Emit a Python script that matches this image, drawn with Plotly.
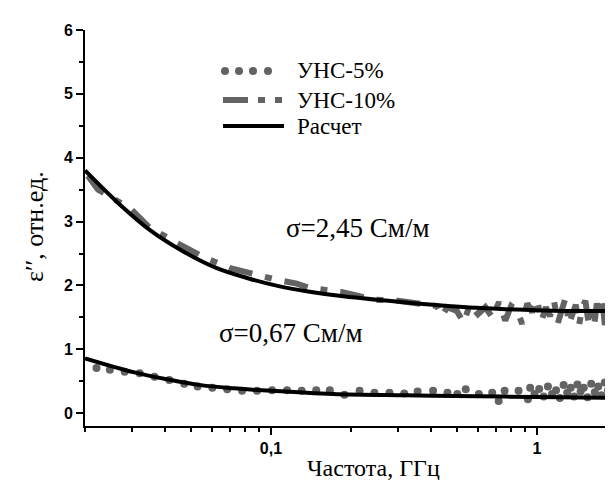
import plotly.graph_objects as go

# ---------------- data ----------------
# Calculated curve, sigma = 2.45 S/m
calc_hi_f = [0.02, 0.0262, 0.0349, 0.0465, 0.0619, 0.0825, 0.1069, 0.136, 0.187, 0.331, 0.588, 1.04, 1.85, 2.0]
calc_hi_e = [3.80, 3.32, 2.875, 2.54, 2.28, 2.11, 1.99, 1.91, 1.83, 1.73, 1.65, 1.61, 1.60, 1.60]

# Calculated curve, sigma = 0.67 S/m
calc_lo_f = [0.02, 0.0307, 0.0409, 0.0545, 0.0726, 0.1, 0.1715, 0.321, 0.604, 1.0, 2.0]
calc_lo_e = [0.86, 0.64, 0.53, 0.44, 0.39, 0.35, 0.30, 0.28, 0.265, 0.255, 0.24]

# УНС-10% measurement
unc10_f = [0.0205, 0.0224, 0.0297, 0.0349, 0.0446, 0.0561, 0.0703, 0.0887, 0.1053, 0.125, 0.14,
           0.184, 0.242, 0.30, 0.36, 0.40, 0.42, 0.44, 0.46, 0.50, 0.53, 0.56, 0.60, 0.64, 0.68,
           0.72, 0.76, 0.80, 0.84, 0.88, 0.92, 0.96, 1.00, 1.04, 1.08, 1.12, 1.16, 1.20, 1.24,
           1.28, 1.32, 1.36, 1.40, 1.44, 1.48, 1.52, 1.56, 1.60, 1.64, 1.68, 1.72, 1.76, 1.80,
           1.84, 1.88, 1.92, 1.96, 2.00]
unc10_e = [3.72, 3.50, 3.20, 2.91, 2.66, 2.44, 2.27, 2.16, 2.09, 2.03, 1.96,
           1.90, 1.78, 1.76, 1.72, 1.70, 1.68, 1.52, 1.66, 1.60, 1.42, 1.70, 1.55, 1.66, 1.50,
           1.74, 1.45, 1.68, 1.62, 1.40, 1.72, 1.58, 1.78, 1.44, 1.66, 1.52, 1.75, 1.42, 1.62,
           1.80, 1.40, 1.58, 1.70, 1.38, 1.65, 1.76, 1.45, 1.62, 1.36, 1.72, 1.50, 1.80, 1.38,
           1.66, 1.30, 1.78, 1.42, 1.60]

# УНС-5% measurement
unc5_f = [0.0221, 0.0248, 0.0282, 0.0321, 0.0365, 0.0415, 0.0472, 0.053, 0.0602, 0.0685, 0.0779,
          0.0887, 0.101, 0.115, 0.1305, 0.148, 0.1665, 0.189, 0.2155, 0.245, 0.279, 0.317, 0.356,
          0.407, 0.461, 0.502, 0.54, 0.605, 0.679, 0.718, 0.756, 0.853, 0.925, 0.943, 0.98, 1.02,
          1.06, 1.10, 1.14, 1.18, 1.22, 1.26, 1.30, 1.34, 1.38, 1.42, 1.46, 1.50, 1.55, 1.60,
          1.65, 1.70, 1.75, 1.80, 1.85, 1.90, 1.95, 1.99]
unc5_e = [0.71, 0.68, 0.65, 0.625, 0.57, 0.52, 0.46, 0.42, 0.40, 0.375, 0.35,
          0.35, 0.36, 0.36, 0.35, 0.36, 0.36, 0.29, 0.35, 0.32, 0.32, 0.31, 0.34,
          0.35, 0.32, 0.30, 0.375, 0.30, 0.32, 0.19, 0.35, 0.35, 0.22, 0.40, 0.30, 0.38,
          0.26, 0.42, 0.30, 0.36, 0.24, 0.44, 0.32, 0.40, 0.26, 0.45, 0.34, 0.40, 0.25, 0.46,
          0.33, 0.42, 0.28, 0.48, 0.36, 0.44, 0.30, 0.47]

x_tickvals = [0.1, 1]
x_ticktext = ["0,1", "1"]
x_minor = [0.02, 0.03, 0.04, 0.05, 0.06, 0.07, 0.08, 0.09, 0.2, 0.3, 0.4, 0.5, 0.6, 0.7, 0.8, 0.9, 2]
y_tickvals = [0, 1, 2, 3, 4, 5, 6]

legend_names = ["УНС-5%", "УНС-10%", "Расчет"]
sigma_labels = ["σ=2,45 См/м", "σ=0,67 См/м"]

# ---------------- layout helpers ----------------
W, H = 613, 480
L, R, T, B = 77, 4, 22, 62
PW, PH = W - L - R, H - T - B


def px(x):
    return (x - L) / PW


def py(y):
    return (H - B - y) / PH


GRAY = "#636363"
SERIF = "Liberation Serif"
SANS = "Liberation Sans"

fig = go.Figure()

fig.add_trace(go.Scatter(x=unc5_f, y=unc5_e, mode="markers",
                         marker=dict(size=8, color=GRAY, line=dict(width=0)),
                         name=legend_names[0], showlegend=False))
fig.add_trace(go.Scatter(x=unc10_f, y=unc10_e, mode="lines",
                         line=dict(color=GRAY, width=6, dash="24px,13px,7px,13px"),
                         name=legend_names[1], showlegend=False))
fig.add_trace(go.Scatter(x=calc_hi_f, y=calc_hi_e, mode="lines",
                         line=dict(color="black", width=4, shape="spline"),
                         name=legend_names[2], showlegend=False))
fig.add_trace(go.Scatter(x=calc_lo_f, y=calc_lo_e, mode="lines",
                         line=dict(color="black", width=4, shape="spline"),
                         name=legend_names[2], showlegend=False))

shapes = []
# legend sample: dots
for cx in [217, 231, 245, 260]:
    shapes.append(dict(type="circle", xref="paper", yref="paper",
                       xsizemode="pixel", ysizemode="pixel",
                       xanchor=px(cx), yanchor=py(63),
                       x0=-4, x1=4, y0=-4, y1=4,
                       fillcolor=GRAY, line=dict(width=0)))
# legend sample: dash-dot-dot
shapes.append(dict(type="line", xref="paper", yref="paper",
                   x0=px(215), x1=px(276), y0=py(92), y1=py(92),
                   line=dict(color=GRAY, width=6, dash="25px,10px,7px,10px,7px,30px")))
# legend sample: solid
shapes.append(dict(type="line", xref="paper", yref="paper",
                   x0=px(215), x1=px(276), y0=py(118), y1=py(118),
                   line=dict(color="black", width=4)))

annotations = []
for txt, yy in zip(legend_names, [63, 92, 118]):
    annotations.append(dict(text=txt, xref="paper", yref="paper", x=px(287), y=py(yy),
                            xanchor="left", yanchor="middle", showarrow=False,
                            font=dict(family=SERIF, size=23, color="black")))
annotations.append(dict(text=sigma_labels[0], xref="paper", yref="paper", x=px(276), y=py(220),
                        xanchor="left", yanchor="middle", showarrow=False,
                        font=dict(family=SERIF, size=27, color="black")))
annotations.append(dict(text=sigma_labels[1], xref="paper", yref="paper", x=px(209), y=py(325),
                        xanchor="left", yanchor="middle", showarrow=False,
                        font=dict(family=SERIF, size=27, color="black")))
annotations.append(dict(text="Частота, ГГц", xref="paper", yref="paper", x=px(365), y=py(460),
                        xanchor="center", yanchor="middle", showarrow=False,
                        font=dict(family=SERIF, size=24, color="black")))
annotations.append(dict(text="ε′′, отн.ед.", xref="paper", yref="paper", x=px(26), y=py(219),
                        xanchor="center", yanchor="middle", showarrow=False, textangle=-90,
                        font=dict(family=SERIF, size=26, color="black")))

fig.update_layout(
    width=W, height=H,
    margin=dict(l=L, r=R, t=T, b=B, pad=0),
    paper_bgcolor="white", plot_bgcolor="white",
    showlegend=False,
    shapes=shapes, annotations=annotations,
    xaxis=dict(type="log", range=[-1.69897, 0.30103],
               tickvals=x_tickvals, ticktext=x_ticktext,
               ticks="outside", ticklen=7, tickwidth=2, tickcolor="black",
               showline=True, linecolor="black", linewidth=2,
               showgrid=False, zeroline=False, automargin=False,
               tickfont=dict(family=SANS, size=16, color="black", weight="bold"),
               minor=dict(tickvals=x_minor, ticks="outside", ticklen=4, tickwidth=2,
                          tickcolor="black", showgrid=False)),
    yaxis=dict(range=[-0.2, 6.0],
               tickvals=y_tickvals,
               ticks="outside", ticklen=7, tickwidth=2, tickcolor="black",
               showline=True, linecolor="black", linewidth=2,
               showgrid=False, zeroline=False, automargin=False,
               tickfont=dict(family=SANS, size=16, color="black", weight="bold"),
               minor=dict(dtick=0.5, ticks="outside", ticklen=4, tickwidth=2,
                          tickcolor="black", showgrid=False)),
)

fig.write_html("out.html")
